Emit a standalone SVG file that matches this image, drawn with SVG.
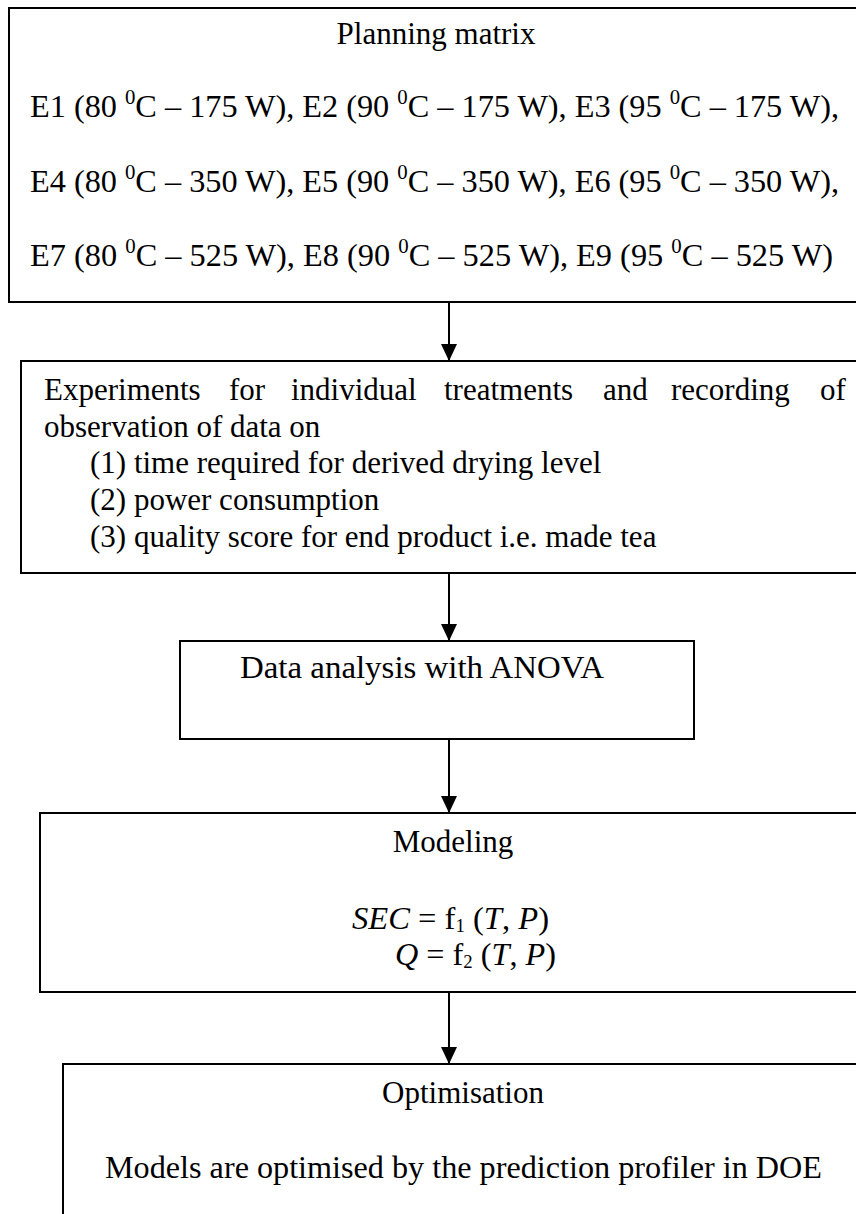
<svg xmlns="http://www.w3.org/2000/svg" width="856" height="1214" viewBox="0 0 856 1214">
  <defs>
    <style>
      .box { fill: #ffffff; stroke: #000000; stroke-width: 2; }
      .t { font-family: "Liberation Serif", "Times New Roman", serif; font-size: 31px; fill: #000000; }
      .it { font-style: italic; }
      .link { stroke: #000000; stroke-width: 2; fill: none; }
    </style>
    <marker id="arrow" viewBox="0 0 17 16" refX="17" refY="8" markerWidth="17" markerHeight="16" markerUnits="userSpaceOnUse" orient="auto">
      <path d="M0,0 L17,8 L0,16 Z" fill="#000000"/>
    </marker>
  </defs>

  <rect width="856" height="1214" fill="#ffffff"/>

  <!-- Connectors -->
  <g id="connectors">
    <line class="link" x1="449" y1="302" x2="449" y2="361" marker-end="url(#arrow)"/>
    <line class="link" x1="449" y1="573" x2="449" y2="641" marker-end="url(#arrow)"/>
    <line class="link" x1="449" y1="739" x2="449" y2="813" marker-end="url(#arrow)"/>
    <line class="link" x1="449" y1="992" x2="449" y2="1064" marker-end="url(#arrow)"/>
  </g>

  <!-- Planning matrix -->
  <g id="planning">
    <rect class="box" x="9" y="8" width="860" height="294"/>
    <text class="t" x="436" y="44" text-anchor="middle">Planning matrix</text>
    <text class="t" x="30" y="117" textLength="809" lengthAdjust="spacingAndGlyphs">E1 (80 <tspan font-size="20" dy="-13">0</tspan><tspan dy="13">C – 175 W), E2 (90 </tspan><tspan font-size="20" dy="-13">0</tspan><tspan dy="13">C – 175 W), E3 (95 </tspan><tspan font-size="20" dy="-13">0</tspan><tspan dy="13">C – 175 W),</tspan></text>
    <text class="t" x="30" y="192" textLength="809" lengthAdjust="spacingAndGlyphs">E4 (80 <tspan font-size="20" dy="-13">0</tspan><tspan dy="13">C – 350 W), E5 (90 </tspan><tspan font-size="20" dy="-13">0</tspan><tspan dy="13">C – 350 W), E6 (95 </tspan><tspan font-size="20" dy="-13">0</tspan><tspan dy="13">C – 350 W),</tspan></text>
    <text class="t" x="30" y="266" textLength="803" lengthAdjust="spacingAndGlyphs">E7 (80 <tspan font-size="20" dy="-13">0</tspan><tspan dy="13">C – 525 W), E8 (90 </tspan><tspan font-size="20" dy="-13">0</tspan><tspan dy="13">C – 525 W), E9 (95 </tspan><tspan font-size="20" dy="-13">0</tspan><tspan dy="13">C – 525 W)</tspan></text>
  </g>

  <!-- Experiments -->
  <g id="experiments">
    <rect class="box" x="21" y="361" width="860" height="212"/>
    <text class="t" y="400"><tspan x="44">Experiments</tspan><tspan x="229">for</tspan><tspan x="291">individual</tspan><tspan x="444">treatments</tspan><tspan x="603">and</tspan><tspan x="671">recording</tspan><tspan x="820">of</tspan></text>
    <text class="t" x="44" y="437">observation of data on</text>
    <text class="t" x="90" y="473">(1) time required for derived drying level</text>
    <text class="t" x="90" y="510">(2) power consumption</text>
    <text class="t" x="90" y="547">(3) quality score for end product i.e. made tea</text>
  </g>

  <!-- ANOVA -->
  <g id="anova">
    <rect class="box" x="180" y="641" width="514" height="98"/>
    <text class="t" x="240" y="678" textLength="364" lengthAdjust="spacingAndGlyphs">Data analysis with ANOVA</text>
  </g>

  <!-- Modeling -->
  <g id="modeling">
    <rect class="box" x="40" y="813" width="830" height="179"/>
    <text class="t" x="453" y="852" text-anchor="middle">Modeling</text>
    <text class="t" x="352" y="929" textLength="197" lengthAdjust="spacingAndGlyphs"><tspan class="it">SEC</tspan> = f<tspan font-size="18" dy="3">1</tspan><tspan dy="-3"> (</tspan><tspan class="it">T</tspan>, <tspan class="it">P</tspan>)</text>
    <text class="t" x="395" y="965" textLength="161" lengthAdjust="spacingAndGlyphs"><tspan class="it">Q</tspan> = f<tspan font-size="18" dy="3">2</tspan><tspan dy="-3"> (</tspan><tspan class="it">T</tspan>, <tspan class="it">P</tspan>)</text>
  </g>

  <!-- Optimisation -->
  <g id="optimisation">
    <rect class="box" x="63" y="1064" width="810" height="170"/>
    <text class="t" x="463" y="1103" text-anchor="middle">Optimisation</text>
    <text class="t" x="105" y="1178" textLength="717" lengthAdjust="spacingAndGlyphs">Models are optimised by the prediction profiler in DOE</text>
  </g>
</svg>
